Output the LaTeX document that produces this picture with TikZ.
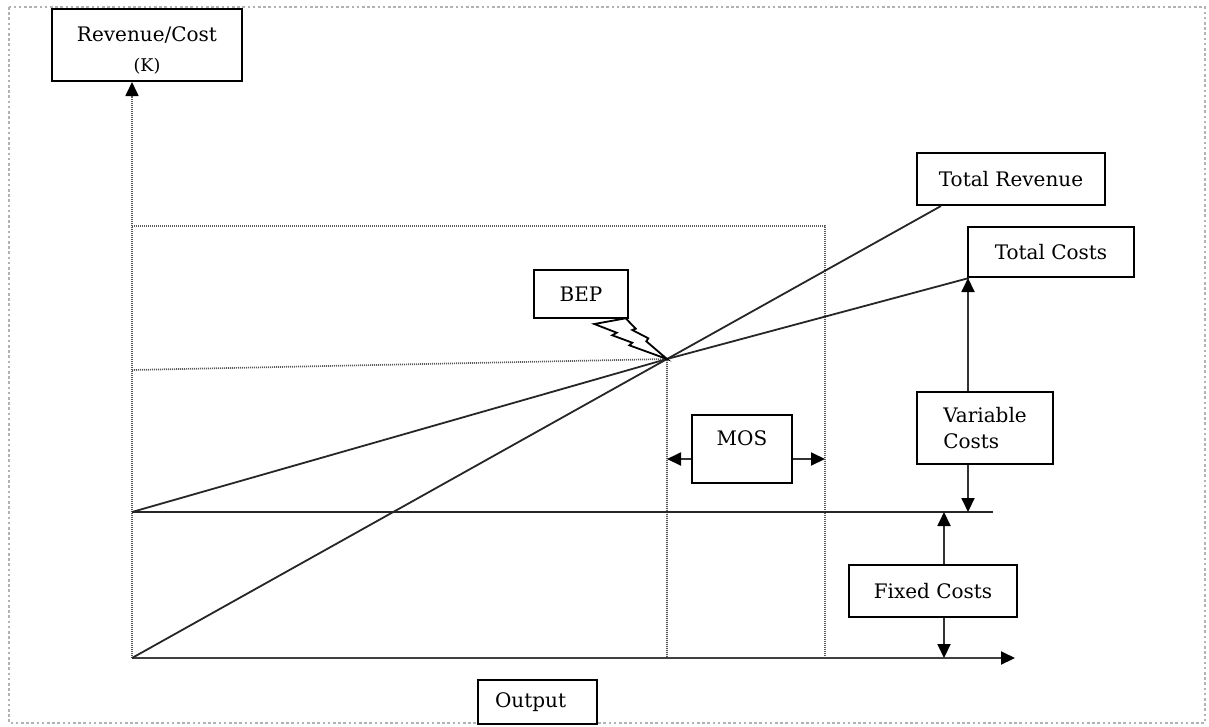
\documentclass[tikz,border=0pt]{standalone}
\usepackage{fontspec}
\setmainfont{DejaVu Serif}
\usetikzlibrary{arrows.meta}
\begin{document}
\begin{tikzpicture}[x=1pt,y=-1pt]
\tikzset{
  box/.style={draw, line width=2pt, inner sep=0pt, fill=white, font=\fontsize{20}{24}\selectfont},
  dotline/.style={line width=1.7pt, black!65, dash pattern=on 1pt off 1pt},
  chartline/.style={line width=1.8pt, black!85},
  tipped/.style={-{Triangle[length=14pt,width=13pt,color=black]}},
  conn/.style={line width=1.9pt, black!80, tipped},
}
\useasboundingbox (0,0) rectangle (1209,726);
% frame
\draw[line width=2.6pt, black!30, dash pattern=on 2.6pt off 2.6pt] (9,7) rectangle (1205,723);

% key points
\coordinate (O) at (132,658);
\coordinate (xend) at (1015,658);
\coordinate (F0) at (132,512);
\coordinate (F1) at (993,512);
\coordinate (BEP) at (667,359);
\coordinate (Ytop) at (132,226);
\coordinate (Mx) at (825,226);
\coordinate (Bl) at (132,370);

% boxes
\node[box, minimum width=190pt, minimum height=72pt, align=center, font=\fontsize{20}{30}\selectfont] (rc) at (147,45) {\rule{0pt}{25pt}Revenue/Cost\\{\fontsize{17.5}{30}\selectfont (K)}};
\node[box, minimum width=188pt, minimum height=52pt] (tr) at (1011,179) {Total Revenue};
\node[box, minimum width=166pt, minimum height=50pt] (tc) at (1051,252) {Total Costs};
\node[box, minimum width=94pt, minimum height=48pt] (bep) at (581,294) {BEP};
\node[box, minimum width=100pt, minimum height=68pt, text height=14.6pt, text depth=22pt] (mos) at (742,449) {MOS};
\node[box, minimum width=136pt, minimum height=72pt, align=left, font=\fontsize{20}{26}\selectfont] (vc) at (985,428) {Variable\\Costs};
\node[box, minimum width=168pt, minimum height=52pt] (fc) at (933,591) {Fixed Costs};
\node[box, minimum width=119pt, minimum height=44pt, inner xsep=17pt] (out) at (537.5,702) {\makebox[85pt][l]{Output}};

% dotted guides
\draw[dotline] (Ytop) -- (Mx) -- (Mx |- O);
\draw[dotline] (Bl) -- (BEP) -- (BEP |- O);

% axes
\draw[dotline, tipped] (O) -- (O |- rc.south);
\draw[line width=2pt, black!75, tipped] (O) -- (xend);

% fixed cost line
\draw[line width=2pt, black!85] (F0) -- (F1);

% total revenue and total costs
\draw[chartline] (O) -- (BEP) -- ([xshift=25pt]tr.south west);
\draw[chartline] (F0) -- (BEP) -- ([xshift=2pt]tc.south west);

% lightning callout
\draw[line width=1.8pt, fill=white, line join=miter]
  (594.3,324) -- (616.7,332.7) -- (612.3,335.3) -- (632.3,342.7) -- (629.3,345.3) -- (BEP)
  -- (646.3,341.3) -- (648.3,338.3) -- (632.3,330) -- (635.7,328.7) -- (625.7,318.3) -- cycle;

% MOS arrows
\draw[conn] ([yshift=-10pt]mos.west) -- ([yshift=-10pt]mos.west -| BEP);
\draw[conn] ([yshift=-10pt]mos.east) -- ([yshift=-10pt]mos.east -| Mx);

% variable cost arrows
\draw[conn] ([xshift=1pt]tc.south west |- vc.north) -- ([xshift=1pt]tc.south west);
\draw[conn] ([xshift=1pt]tc.south west |- vc.south) -- ([xshift=1pt]tc.south west |- F0);

% fixed cost arrows
\draw[conn] ([xshift=11pt]fc.north) -- ([xshift=11pt]fc.north |- F0);
\draw[conn] ([xshift=11pt]fc.south) -- ([xshift=11pt]fc.south |- O);
\end{tikzpicture}
\end{document}
